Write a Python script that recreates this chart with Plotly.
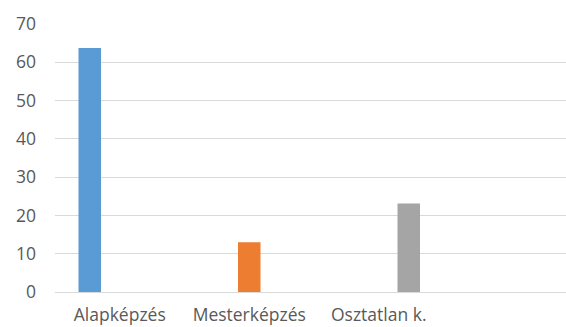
import plotly.graph_objects as go

categories = ["Alapképzés", "Mesterképzés", "Osztatlan k."]
series_names = ["Alapképzés", "Mesterképzés", "Osztatlan k."]
series_values = [63.7, 13.0, 23.1]
colors = ["#5B9BD5", "#ED7D31", "#A5A5A5"]
y_ticks = [0, 10, 20, 30, 40, 50, 60, 70]

fig = go.Figure()
for i, (name, val) in enumerate(zip(series_names, series_values)):
    fig.add_trace(go.Bar(
        x=[categories[i]], y=[val], name=name, offsetgroup=str(i),
        marker=dict(color=colors[i], line=dict(width=0)),
        showlegend=False, hoverinfo="skip",
    ))

font = dict(family="Open Sans", size=17.5, color="#595959")
fig.update_layout(
    width=566, height=327,
    margin=dict(l=55, r=0, t=24, b=34.5),
    paper_bgcolor="white", plot_bgcolor="white",
    barmode="group", bargap=0.305, bargroupgap=0.25,
    font=font,
    xaxis=dict(
        type="category", categoryorder="array", categoryarray=categories,
        range=[-0.5, 3.446], showgrid=False, zeroline=False,
        showline=True, linecolor="#D9D9D9", linewidth=1,
        ticks="", ticklabelstandoff=7, tickfont=font, automargin=False,
    ),
    yaxis=dict(
        range=[0, 70], tickvals=y_ticks, showgrid=True, gridcolor="#D9D9D9",
        gridwidth=1, zeroline=False, showline=False, ticks="",
        ticklabelstandoff=18, tickfont=font, automargin=False,
    ),
)
fig.write_html(
    "out.html",
    config={"displayModeBar": False, "staticPlot": True},
    post_script="document.body.style.margin='0';document.body.style.overflow='hidden';",
)
